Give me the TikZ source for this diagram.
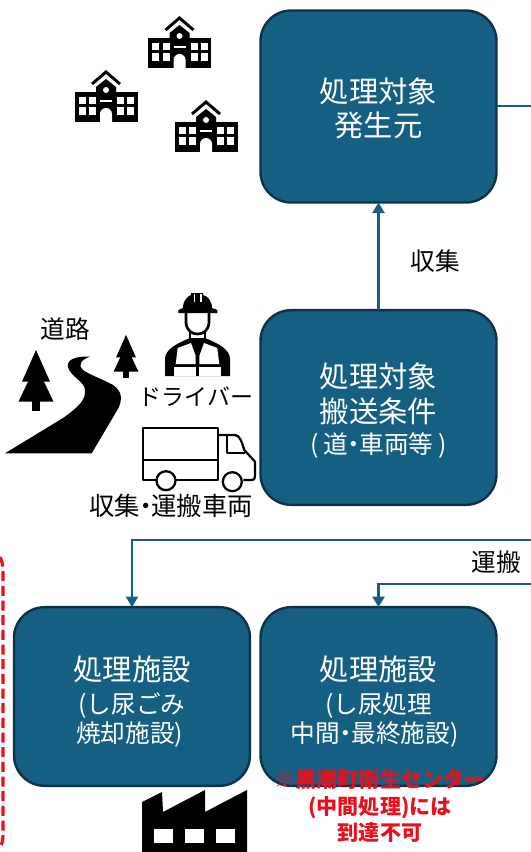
\documentclass[tikz,border=0pt]{standalone}
\usepackage{fontspec}
\setmainfont{Noto Sans CJK JP}
\usetikzlibrary{arrows.meta}
\definecolor{boxblue}{HTML}{156082}
\definecolor{boxedge}{HTML}{0C3248}
\definecolor{notered}{HTML}{E8101C}
\newcommand{\bigtxt}{\fontsize{22}{27}\selectfont}
\newcommand{\subtxt}{\fontsize{18.5}{22}\selectfont}
\newcommand{\labeltxt}{\fontsize{18.5}{22}\selectfont}
\newcommand{\mdot}{\hspace{-.27em}・\hspace{-.27em}}
\newcommand{\toppad}[1]{\rule{0pt}{#1}}
\tikzset{
  procbox/.style={draw=boxedge,line width=1.8pt,fill=boxblue,rounded corners=23pt,text=white,
    minimum width=177pt,align=center,inner sep=0pt,outer sep=0pt},
  flow/.style={draw=boxblue,line width=2pt,-{Triangle[length=8pt,width=9pt]}},
  flowline/.style={draw=boxblue,line width=2pt},
  textlabel/.style={text=black,font=\labeltxt,inner sep=0pt},
  schoolicon/.pic={
    \fill[black] (-31.5,-30) rectangle (31.5,0);
    \fill[black] (-10,-28) -- (-10,-35) -- (0,-43) -- (10,-35) -- (10,-28) -- cycle;
    \draw[black,line width=2.2pt] (-14,-38) -- (0,-50) -- (14,-38);
    \fill[white] (0,-32) circle (3);
    \foreach \wx in {-27.5,-17,11,21}
      \foreach \wy in {-25,-14.5}
        \fill[white] (\wx,\wy) rectangle ++(7.3,7.3);
    \fill[white] (-6,-21.5) rectangle (6,-19.5);
    \fill[white] (-6,0) -- (-6,-8) arc[start angle=180,end angle=360,radius=6] -- (6,0) -- cycle;
  },
  treeicon/.pic={
    \fill[black] (0,-60.7) -- (14,-29) -- (8,-29) -- (17.5,-9) -- (-17.5,-9) -- (-8,-29) -- (-14,-29) -- cycle;
    \fill[black] (-3.6,-10) rectangle (3.6,0);
  }
}
\begin{document}
\begin{tikzpicture}[x=0.75pt,y=-0.75pt]
\useasboundingbox (0,0) rectangle (531,852);
\node[procbox,minimum height=144pt] (source) at (378.5,106.5) {\toppad{21.5pt}\bigtxt 処理対象\\[4pt]\bigtxt 発生元};
\node[procbox,minimum height=146pt] (haul) at (378.5,407.5) {\toppad{23.5pt}\bigtxt 処理対象\\[5pt]\bigtxt 搬送条件\\[5pt]\subtxt (\hspace{.2em}道\mdot 車両等\hspace{.2em})};
\node[procbox,minimum height=134pt] (burn) at (132,696.5) {\toppad{26pt}\bigtxt 処理施設\\[6.5pt]\subtxt (し尿ごみ\\[1.5pt]\subtxt 焼却施設)\hspace*{.2em}};
\node[procbox,minimum height=134pt] (treat) at (378.5,696.5) {\toppad{26pt}\bigtxt 処理施設\\[6.5pt]\subtxt (し尿処理\hspace*{.5em}\\[1.5pt]\subtxt 中間\mdot 最終施設)\hspace*{.3em}};
\coordinate (outsource) at (531,106);
\coordinate (inburn) at (531,540);
\coordinate (intreat) at (531,584);
\draw[flowline] (source.east |- outsource) -- (outsource);
\draw[flow] (haul.north) -- (source.south);
\draw[flow] (inburn) -| (burn.north);
\draw[flow] (intreat) -| (treat.north);
\node[textlabel] (collect) at (435,261) {収集};
\node[textlabel] (carry) at (496,562) {運搬};
\node[textlabel] (road) at (65,329) {道路};
\node[textlabel,font=\fontsize{17.2}{20}\selectfont] (driver) at (196,397) {ドライバー};
\node[textlabel,font=\fontsize{19}{22}\selectfont] (truck) at (171,506) {収集\mdot 運搬車両};
\node[text=notered,font=\fontsize{15.8}{19}\selectfont\bfseries,align=center,inner sep=0pt] (note) at (380,806)
  {※黒潮町衛生センター\\[1pt](中間処理)には\\[1pt]到達不可};
\pic at (179.5,68) {schoolicon};
\pic at (106,122) {schoolicon};
\pic at (206,152) {schoolicon};
\pic at (36,410.7) {treeicon};
\pic[scale=0.71] at (126,378) {treeicon};
\fill[black] (5,453.3) -- (91.7,453.3) -- (118.3,408.3) .. controls (122,400) and (123,392) .. (113,385)
  .. controls (100,378) and (90,375) .. (83,370) .. controls (78,366) and (80,360) .. (90,356.7)
  .. controls (80,356) and (66,358) .. (68,367) .. controls (70,376) and (85,382) .. (85,390)
  .. controls (85,396) and (84,399) .. (81.7,401.7) .. controls (75,410) and (65,417) .. (57,421.7) -- cycle;
\fill[black] (183,308) .. controls (183,300) and (188,296) .. (191,295) -- (191,293) -- (203,293) -- (203,295)
  .. controls (207,296) and (212,300) .. (212,308) -- (217.3,310) -- (217.3,313) -- (178.3,313) -- (178.3,310) -- cycle;
\fill[white] (193.5,294) rectangle (195,302);
\fill[white] (200,294) rectangle (201.5,302);
\draw[black,line width=2pt] (186,313) -- (186,323) .. controls (187,331) and (192,334) .. (197.5,334)
  .. controls (203,334) and (208,331) .. (209,323) -- (209,313);
\draw[black,line width=1.4pt] (190,331) -- (190,338);
\draw[black,line width=1.4pt] (205,331) -- (205,338);
\fill[black] (165,376) -- (165,359) .. controls (165,349) and (178,343) .. (190,338) -- (205,338)
  .. controls (217,343) and (230,349) .. (230,359) -- (230,376) -- cycle;
\fill[white] (177.7,348) -- (191,343) -- (195.7,356) -- (195.7,364) -- (175.7,364) -- cycle;
\fill[white] (217.3,348) -- (204,343) -- (199.3,356) -- (199.3,364) -- (219.3,364) -- cycle;
\fill[white] (174.3,366.5) rectangle (195.7,375.5);
\fill[white] (199.3,366.5) rectangle (220.7,375.5);
\draw[black,line width=1.7pt,line join=round] (143.3,480) -- (143.3,428.3) -- (218.3,428.3) -- (218.3,480) -- cycle;
\draw[black,line width=1.7pt] (143.3,460) -- (218.3,460);
\draw[black,line width=1.7pt,line join=round] (218.3,435) -- (235,435) .. controls (240,435) and (242,443) .. (244.3,450)
  -- (255,461.7) -- (255,476) .. controls (255,479) and (254,480) .. (251.7,480) -- (243.3,480);
\draw[black,line width=1.7pt,line join=round] (226.7,436) -- (226.7,453.3) -- (245,453.3);
\draw[black,fill=white,line width=1.7pt] (166,480.7) circle (9.5);
\draw[black,fill=white,line width=1.7pt] (232.3,481.7) circle (9.5);
\fill[black] (142,852) -- (142,802) -- (162,792) -- (163,812) -- (205,790) -- (205,812) -- (247,790) -- (247,852) -- cycle;
\foreach \wx in {154,185,216}
  \fill[white] (\wx,829) rectangle ++(19,14);
\draw[notered,line width=2.4pt,dash pattern=on 7.5pt off 3.5pt] (0,557) .. controls (2,561) and (3,565) .. (3,572) -- (3,835) .. controls (3,840) and (2,844) .. (0,848);
\end{tikzpicture}
\end{document}
